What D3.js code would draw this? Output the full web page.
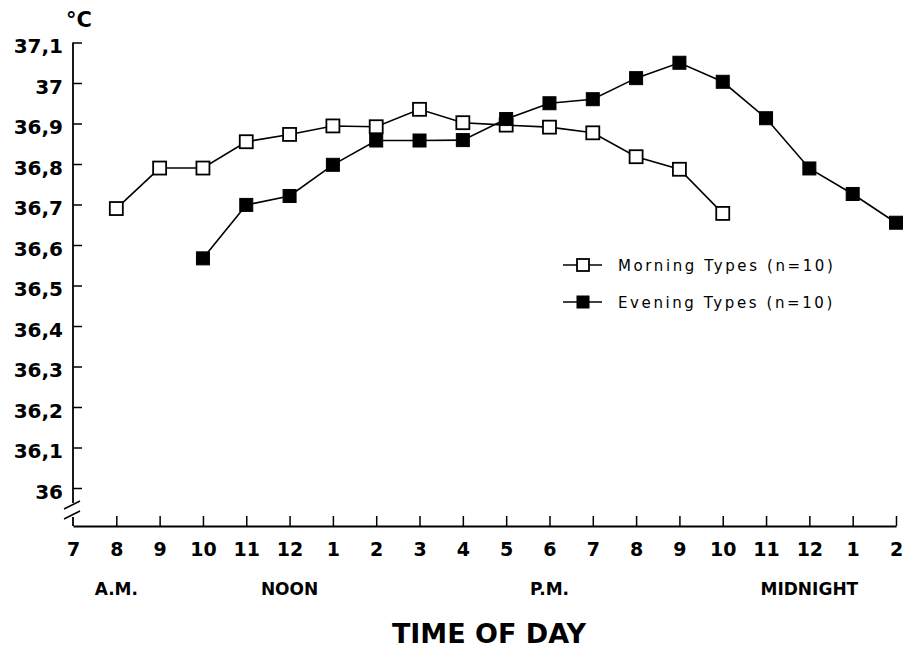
<!DOCTYPE html>
<html>
<head>
<meta charset="utf-8">
<script src="https://cdn.jsdelivr.net/npm/d3@7"></script>
<style>
  body { margin: 0; background: #fff; }
  text { fill: #000; }
</style>
</head>
<body>
<div id="chart"></div>
<script>
// hour of day (7 = 7 a.m., 24 = midnight, 26 = 2 a.m. next day)
const hours = [7, 8, 9, 10, 11, 12, 13, 14, 15, 16, 17, 18, 19, 20, 21, 22, 23, 24, 25, 26]
const tickLabels = ["7", "8", "9", "10", "11", "12", "1", "2", "3", "4", "5", "6", "7", "8", "9", "10", "11", "12", "1", "2"]

// periods written under the hour ticks
const periodHours = [8, 12, 18, 24]
const periodLabels = ["A.M.", "NOON", "P.M.", "MIDNIGHT"]

// mean body temperature, °C
const morningHours = [8, 9, 10, 11, 12, 13, 14, 15, 16, 17, 18, 19, 20, 21, 22]
const morningTemp = [36.69, 36.79, 36.79, 36.855, 36.873, 36.894, 36.892, 36.935, 36.902, 36.896, 36.891, 36.877, 36.818, 36.787, 36.678]

const eveningHours = [10, 11, 12, 13, 14, 15, 16, 17, 18, 19, 20, 21, 22, 23, 24, 25, 26]
const eveningTemp = [36.567, 36.699, 36.721, 36.798, 36.858, 36.858, 36.859, 36.911, 36.95, 36.96, 37.012, 37.05, 37.003, 36.913, 36.789, 36.726, 36.655]

const yTicks = [36, 36.1, 36.2, 36.3, 36.4, 36.5, 36.6, 36.7, 36.8, 36.9, 37, 37.1]

const seriesNames = ["Morning Types (n=10)", "Evening Types (n=10)"]

const W = 904, H = 650
const bold = "'DejaVu Sans', sans-serif"

const svg = d3.select("#chart")
  .append("svg")
    .attr("width", W)
    .attr("height", H)

// scales
const x = d3.scaleLinear()
    .domain([7, 26])
    .range([73, 896])

const y = d3.scaleLinear()
    .domain([36, 37.1])
    .range([488, 42.5])

const xAxisY = 526

// Y axis
const yAxis = svg.append("g")
    .attr("transform", "translate(" + x(7) + ",0)")
    .call(d3.axisLeft(y)
      .tickValues(yTicks)
      .tickSizeInner(-9)
      .tickSizeOuter(0)
      .tickPadding(10)
      .tickFormat(d => d3.format(".1f")(d).replace(".0", "").replace(".", ",")))

yAxis.select(".domain").remove()
yAxis.selectAll("line").attr("stroke", "#000").attr("stroke-width", 1.5)
yAxis.selectAll("text")
    .attr("font-family", bold)
    .attr("font-weight", "bold")
    .attr("font-size", 20)
    .attr("dy", "0.52em")

// y axis line with a break at the bottom
svg.append("line")
    .attr("x1", x(7)).attr("x2", x(7))
    .attr("y1", y(37.1)).attr("y2", y(36) + 15)
    .attr("stroke", "#000").attr("stroke-width", 1.8)

svg.append("line")
    .attr("x1", x(7)).attr("x2", x(7))
    .attr("y1", xAxisY - 9).attr("y2", xAxisY)
    .attr("stroke", "#000").attr("stroke-width", 1.8)

svg.selectAll(".brk")
  .data([y(36) + 17, y(36) + 27])
  .enter().append("line")
    .attr("class", "brk")
    .attr("x1", x(7) - 9).attr("x2", x(7) + 7)
    .attr("y1", d => d + 4).attr("y2", d => d - 4)
    .attr("stroke", "#000").attr("stroke-width", 1.5)

// °C unit
svg.append("text")
    .attr("x", 66)
    .attr("y", 27)
    .attr("font-family", bold)
    .attr("font-weight", "bold")
    .attr("font-size", 21)
    .text("°C")

// X axis
const xAxis = svg.append("g")
    .attr("transform", "translate(0," + xAxisY + ")")
    .call(d3.axisBottom(x)
      .tickValues(hours)
      .tickSizeInner(-10)
      .tickSizeOuter(0)
      .tickPadding(17)
      .tickFormat((d, i) => tickLabels[i]))

xAxis.select(".domain").attr("stroke", "#000").attr("stroke-width", 1.8)
xAxis.selectAll("line").attr("stroke", "#000").attr("stroke-width", 1.5)
xAxis.selectAll(".tick").filter(d => d === 7).select("line").remove()
xAxis.selectAll("text")
    .attr("font-family", bold)
    .attr("font-weight", "bold")
    .attr("font-size", 19)

// period labels
svg.selectAll(".period")
  .data(periodLabels)
  .enter().append("text")
    .attr("class", "period")
    .attr("x", (d, i) => x(periodHours[i]))
    .attr("y", 595)
    .attr("text-anchor", "middle")
    .attr("font-family", bold)
    .attr("font-weight", "bold")
    .attr("font-size", 17)
    .text(d => d)

// axis title
svg.append("text")
    .attr("x", 489)
    .attr("y", 643)
    .attr("text-anchor", "middle")
    .attr("font-family", bold)
    .attr("font-weight", "bold")
    .attr("font-size", 27)
    .text("TIME OF DAY")

const line = d3.line()
    .x(d => x(d[0]))
    .y(d => y(d[1]))

const ms = 13

function drawSeries(hrs, temps, filled) {
  const pts = hrs.map((h, i) => [h, temps[i]])
  svg.append("path")
      .datum(pts)
      .attr("fill", "none")
      .attr("stroke", "#000")
      .attr("stroke-width", 1.6)
      .attr("d", line)
  svg.append("g")
    .selectAll("rect")
    .data(pts)
    .enter().append("rect")
      .attr("x", d => x(d[0]) - ms / 2)
      .attr("y", d => y(d[1]) - ms / 2)
      .attr("width", ms)
      .attr("height", ms)
      .attr("fill", filled ? "#000" : "#fff")
      .attr("stroke", "#000")
      .attr("stroke-width", filled ? 1 : 1.8)
}

drawSeries(morningHours, morningTemp, false)
drawSeries(eveningHours, eveningTemp, true)

// legend
const legend = svg.append("g")
  .selectAll("g")
  .data(seriesNames)
  .enter().append("g")
    .attr("transform", (d, i) => "translate(563," + (265 + i * 37) + ")")

legend.append("line")
    .attr("x1", 0).attr("x2", 39)
    .attr("stroke", "#000").attr("stroke-width", 1.6)

legend.append("rect")
    .attr("x", 20 - 6).attr("y", -6)
    .attr("width", 12).attr("height", 12)
    .attr("fill", (d, i) => i === 1 ? "#000" : "#fff")
    .attr("stroke", "#000")
    .attr("stroke-width", (d, i) => i === 1 ? 1 : 1.8)

legend.append("text")
    .attr("x", 55)
    .attr("y", 5.5)
    .attr("font-family", "'DejaVu Sans', sans-serif")
    .attr("font-size", 15)
    .attr("letter-spacing", 2.6)
    .text(d => d)
</script>
</body>
</html>
